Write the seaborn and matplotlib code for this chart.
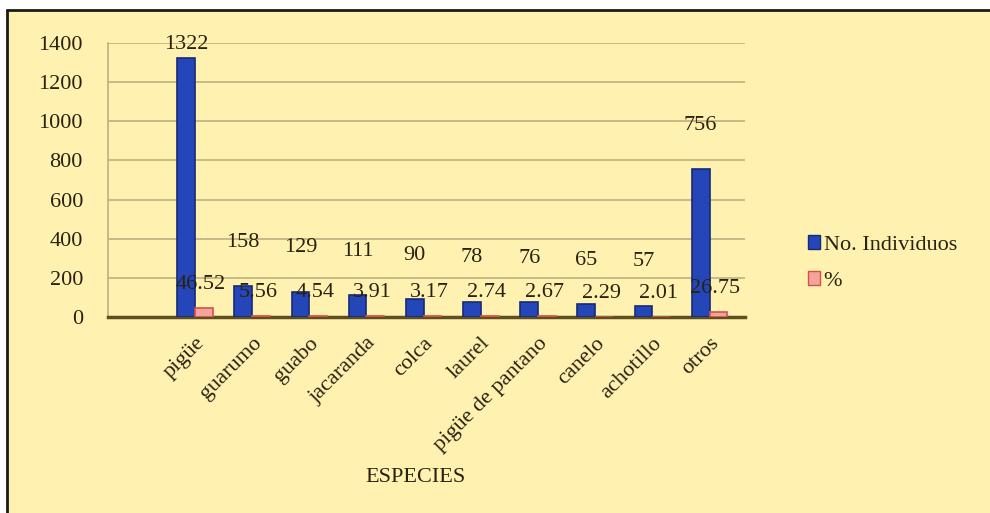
import pandas as pd
import matplotlib.pyplot as plt
import seaborn as sns
from matplotlib.patches import Rectangle

# ----------------------------------------------------------------------------------
# 1. Data
# ----------------------------------------------------------------------------------
especies = ["pigüe", "guarumo", "guabo", "jacaranda", "colca", "laurel",
            "pigüe de pantano", "canelo", "achotillo", "otros"]
individuos = [1322, 158, 129, 111, 90, 78, 76, 65, 57, 756]
porcentaje = [46.52, 5.56, 4.54, 3.91, 3.17, 2.74, 2.67, 2.29, 2.01, 26.75]
series = ["No. Individuos", "%"]

BG = "#FFF1B0"
GRID = "#BFAF7E"
TXT = "#2A2210"
BLUE = "#2446B8"
PINK = "#F6A39C"
FS = 16


def build_frame():
    df = pd.DataFrame({"especie": especies, series[0]: individuos, series[1]: porcentaje})
    return df.melt(id_vars="especie", var_name="serie", value_name="valor")


# ----------------------------------------------------------------------------------
# 2. Chart
# ----------------------------------------------------------------------------------
def create_chart(long_df):
    sns.set_theme(style="white")
    plt.rcParams["font.family"] = ["Liberation Serif", "DejaVu Serif"]

    fig = plt.figure(figsize=(9.9, 5.13), dpi=100)
    fig.patch.set_facecolor("white")
    # yellow chart area with black border on top/left
    fig.patches.append(Rectangle((7 / 990, 0), 1, 1 - 10 / 513, transform=fig.transFigure,
                                 facecolor=BG, edgecolor="none", zorder=-2))
    fig.lines.append(plt.Line2D([7 / 990, 1], [1 - 10 / 513] * 2, transform=fig.transFigure,
                                color="#1a1a1a", lw=2))
    fig.lines.append(plt.Line2D([7 / 990] * 2, [0, 1 - 10 / 513], transform=fig.transFigure,
                                color="#1a1a1a", lw=2))

    ax = fig.add_axes([108 / 990, (513 - 317) / 513, (745 - 108) / 990, 274 / 513])
    ax.set_facecolor("none")

    sns.barplot(data=long_df, x="especie", y="valor", hue="serie", hue_order=series,
                palette=[BLUE, PINK], width=0.62, saturation=1, ax=ax, legend=False, zorder=3)
    for patch, ec in zip(ax.patches, ["#162A78"] * len(especies) + ["#D2524E"] * len(especies)):
        patch.set_edgecolor(ec)
        patch.set_linewidth(1.2)

    ax.set_ylim(0, 1400)
    ax.set_xlim(-1.52, 9.62)
    ax.set_yticks(range(0, 1401, 200))
    ax.yaxis.grid(True, color=GRID, lw=1.2, zorder=0)
    ax.set_axisbelow(True)

    for s in ["top", "right"]:
        ax.spines[s].set_visible(False)
    ax.spines["left"].set_color(GRID)
    ax.spines["left"].set_linewidth(1.2)
    ax.spines["bottom"].set_color("#5E4F1C")
    ax.spines["bottom"].set_linewidth(2.5)

    ax.tick_params(axis="y", length=4, color=GRID, pad=14, labelsize=FS, labelcolor=TXT)
    ax.tick_params(axis="x", length=0, pad=12, labelsize=FS, labelcolor=TXT)
    plt.setp(ax.get_xticklabels(), rotation=45, ha="right", rotation_mode="anchor")
    ax.set_xlabel("")
    ax.set_ylabel("")

    # data labels
    off = 0.155
    for i, (n, p) in enumerate(zip(individuos, porcentaje)):
        ax.text(i - off, min(n + 225, 1390), str(n), ha="center", va="center",
                fontsize=FS, color=TXT, clip_on=False, zorder=5)
        ax.text(i + off - 0.05, p + 120, f"{p:.2f}", ha="center", va="center",
                fontsize=FS, color=TXT, zorder=5)

    fig.text(415 / 990, 1 - 478 / 513, "ESPECIES", ha="center", va="center",
             fontsize=FS, color=TXT)

    handles = [Rectangle((0, 0), 1, 1, facecolor=BLUE, edgecolor="#162A78"),
               Rectangle((0, 0), 1, 1, facecolor=PINK, edgecolor="#D2524E")]
    fig.legend(handles, series, loc="center left", bbox_to_anchor=(788 / 990, 1 - 263 / 513),
               frameon=False, fontsize=FS, handlelength=0.55, handleheight=0.55,
               handletextpad=0.15, labelspacing=0.75, labelcolor=TXT)

    fig.savefig("out.png", dpi=100, facecolor=fig.get_facecolor())
    plt.close(fig)


if __name__ == "__main__":
    create_chart(build_frame())
